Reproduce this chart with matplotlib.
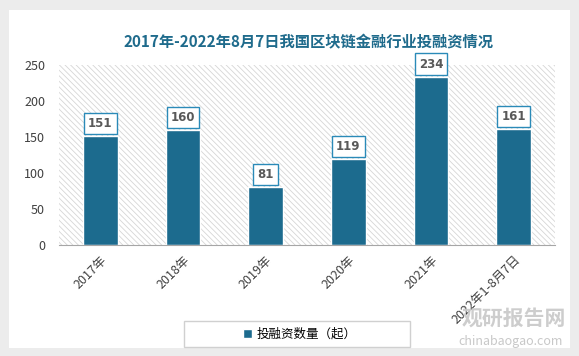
import matplotlib
matplotlib.use('agg')
from matplotlib import pyplot as plt
from matplotlib.patches import Rectangle

plt.rcParams['font.family'] = ['Noto Sans CJK SC', 'DejaVu Sans']
plt.rcParams['hatch.linewidth'] = 0.6

# data
categories = ['2017年', '2018年', '2019年', '2020年', '2021年', '2022年1-8月7日']
values = [151, 160, 81, 119, 234, 161]
title = '2017年-2022年8月7日我国区块链金融行业投融资情况'
series_name = '投融资数量（起）'

bar_color = '#1c6b8e'
box_color = '#2a8ab8'

fig = plt.figure(figsize=(5.79, 3.56), dpi=100)
fig.patch.set_facecolor('#ececec')

# white card behind everything
card = Rectangle((9 / 579, 8 / 356), 561 / 579, 338 / 356,
                 transform=fig.transFigure, facecolor='white',
                 edgecolor='none', zorder=-10)
fig.patches.append(card)

ax = fig.add_axes([59 / 579, (356 - 245) / 356, 496 / 579, 180 / 356])
ax.set_zorder(1)
ax.set_facecolor('white')
ax.add_patch(Rectangle((0, 0), 1, 1, transform=ax.transAxes,
                       facecolor='white', edgecolor='#d6d6d6', linewidth=0,
                       hatch='\\\\\\\\\\\\', zorder=0))

x = list(range(len(categories)))
bars = ax.bar(x, values, width=0.42, color=bar_color,
              edgecolor='white', linewidth=1, zorder=2)

for xi, v in zip(x, values):
    ax.annotate(str(v), (xi, v), xytext=(0, 9), textcoords='offset points',
                ha='center', va='center', fontsize=8.5, fontweight='bold',
                color='#595959', family=['DejaVu Sans'],
                bbox=dict(boxstyle='square,pad=0.35', fc='white',
                          ec=box_color, lw=1), zorder=4)

ax.set_xlim(-0.5, len(categories) - 0.5)
ax.set_ylim(0, 250)
ax.set_yticks(range(0, 251, 50))
ax.set_xticks(x)
ax.set_xticklabels(categories, rotation=45, ha='right',
                   rotation_mode='anchor', fontsize=9, color='#404040')
ax.tick_params(axis='y', length=0, labelsize=9, labelcolor='#404040', pad=10)
ax.tick_params(axis='x', length=0, pad=6)
for side in ['top', 'right', 'left']:
    ax.spines[side].set_visible(False)
ax.spines['bottom'].set_color('#a6a6a6')

fig.text(308 / 579, 1 - 42 / 356, title, ha='center', va='center',
         fontsize=11, fontweight='bold', color='#1f6b8c')

# legend frame drawn by hand so it can be wider than the entry
fig.patches.append(Rectangle((184 / 579, 1 - 347 / 356), 226 / 579, 26 / 356,
                             transform=fig.transFigure, facecolor='white',
                             edgecolor='#d0d0d0', linewidth=1, zorder=2))
leg = fig.legend([bars], [series_name], loc='center',
                 bbox_to_anchor=(300 / 579, 1 - 334 / 356),
                 frameon=False, fontsize=9,
                 handlelength=0.7, handleheight=0.7,
                 handletextpad=0.4)
leg.set_zorder(3)

# watermark
fig.text(462 / 579, 1 - 318 / 356, '观研报告网', ha='left', va='center',
         fontsize=15, fontweight='bold', color='#c8c8c8', alpha=0.9)
fig.text(458 / 579, 1 - 342 / 356, 'chinabaogao.com', ha='left',
         va='center', fontsize=9, color='#c8c8c8')

fig.savefig('out.png', dpi=100, facecolor=fig.get_facecolor())
